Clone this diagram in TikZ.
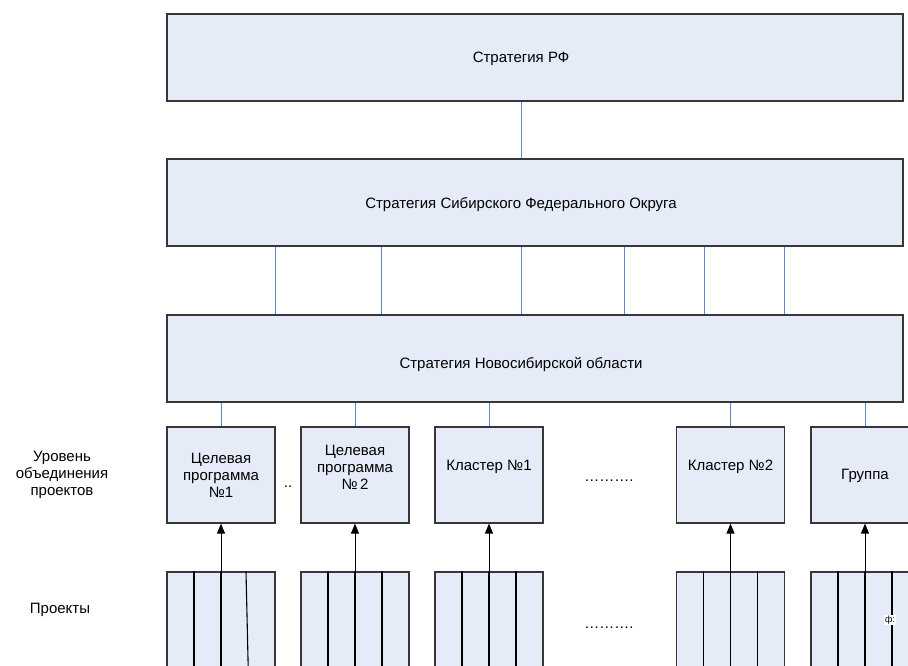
\documentclass[tikz,border=0pt]{standalone}
\usepackage{fontspec}
\setmainfont{Liberation Sans}
\usetikzlibrary{arrows.meta}
\definecolor{boxfill}{RGB}{230,236,247}
\definecolor{boxline}{RGB}{55,55,55}
\definecolor{conn}{RGB}{95,135,205}
\tikzset{
  bigbox/.style={draw=boxline, line width=1.2pt, fill=boxfill, minimum width=736pt, minimum height=87pt, inner sep=0pt},
  lvlbox/.style={draw=boxline, line width=1.2pt, fill=boxfill, minimum width=108pt, minimum height=96pt, inner sep=0pt},
  projbox/.style={draw=boxline, line width=1.2pt, fill=boxfill, minimum width=108pt, minimum height=130pt, inner sep=0pt},
  txt/.style={font=\fontsize{15}{17}\selectfont, align=center, inner sep=0pt},
  bline/.style={draw=conn, line width=1pt},
  divl/.style={draw=black, line width=1.1pt},
  arr/.style={draw=black, line width=1pt, -{Triangle[length=10pt,width=8pt]}}
}
\begin{document}
\begin{tikzpicture}[x=1pt,y=-1pt]
\clip (0,0) rectangle (908,666);
\fill[white] (0,0) rectangle (908,666);
% big boxes
\node[bigbox] (rf) at (535,57.5) {};
\node[bigbox] (sfo) at (535,202.5) {};
\node[bigbox] (nso) at (535,358.5) {};
\node[txt] (trf) at (521,59) {Стратегия РФ};
\node[txt] (tsfo) at (521,205) {Стратегия Сибирского Федерального Округа};
\node[txt] (tnso) at (521,364) {Стратегия Новосибирской области};
% connectors rf - sfo
\draw[bline] ([xshift=-14pt]rf.south) -- ([xshift=-14pt]sfo.north);
% sfo - nso
\foreach \dx in {-260,-154,-14,89,169,249}{
  \draw[bline] ([xshift=\dx pt]sfo.south) -- ([xshift=\dx pt]nso.north);
}
% level boxes
\node[lvlbox] (l1) at (221,475) {};
\node[lvlbox] (l2) at (355,475) {};
\node[lvlbox] (l3) at (489,475) {};
\node[lvlbox] (l4) at (730.5,475) {};
\node[lvlbox] (l5) at (865,475) {};
\node[txt] (t1) at (221,475) {Целевая\\программа\\№1};
\node[txt] (t2) at (355,467) {Целевая\\программа\\№\,2};
\node[txt] (t3) at (489,467) {Кластер №1};
\node[txt] (t4) at (730.5,467) {Кластер №2};
\node[txt] (t5) at (865,476) {Группа};
\foreach \i in {1,...,5}{
  \draw[bline] (l\i.north) -- (l\i.north |- nso.south);
}
% project boxes
\node[projbox] (p1) at (221,637) {};
\node[projbox] (p2) at (355,637) {};
\node[projbox] (p3) at (489,637) {};
\node[projbox] (p4) at (730.5,637) {};
\node[projbox] (p5) at (865,637) {};
\foreach \i in {2,...,5}{
  \foreach \dx in {-27,0,27}{
    \draw[divl] ([xshift=\dx pt]p\i.north) -- ([xshift=\dx pt]p\i.south);
  }
}
\draw[divl] ([xshift=-27pt]p1.north) -- ([xshift=-27pt]p1.south);
\draw[divl] (p1.north) -- (p1.south);
\draw[divl] ([xshift=25pt]p1.north) -- ([xshift=28pt]p1.south);
% arrows
\foreach \i in {1,...,5}{
  \draw[arr] (p\i.north) -- (l\i.south);
}
% side labels and dots
\node[txt] (lev) at (62,475) {Уровень\\объединения\\проектов};
\node[txt] (proj) at (60,610) {Проекты};
\node[txt] (d1) at (288,487) {..};
\node[txt] (d2) at (609,481) {……….};
\node[txt] (d3) at (609,628) {……….};
\node[txt, fill=white, font=\fontsize{9}{10}\selectfont, inner sep=1pt] (fx) at (890,620) {ф:};
\end{tikzpicture}
\end{document}
